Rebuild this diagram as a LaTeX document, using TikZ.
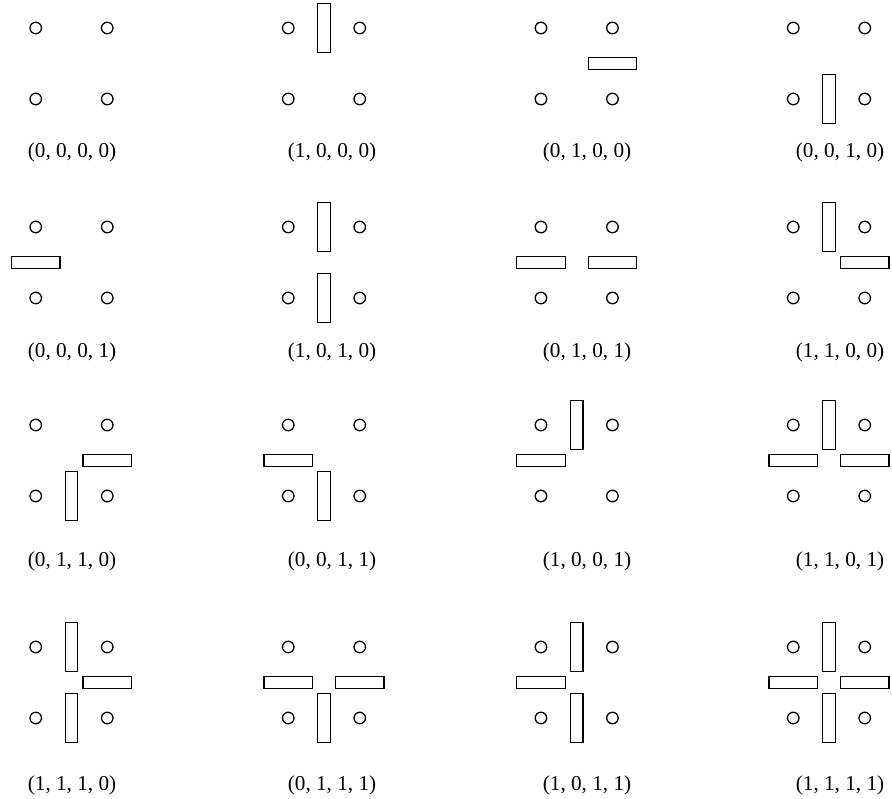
\documentclass[tikz,border=0pt]{standalone}
\usepackage{fontspec}
\setmainfont{Liberation Serif}
\begin{document}
\begin{tikzpicture}[x=1pt,y=-1pt]

% Styles
\tikzset{
  site/.style={
    circle,
    draw=black,
    line width=1.3pt,
    minimum size=11.5pt,
    inner sep=0pt
  },
  vwall/.style={
    rectangle,
    draw=black,
    line width=1.3pt,
    minimum width=12.5pt,
    minimum height=48.5pt,
    inner sep=0pt
  },
  hwall/.style={
    rectangle,
    draw=black,
    line width=1.3pt,
    minimum width=48.5pt,
    minimum height=12.5pt,
    inner sep=0pt
  },
  caption/.style={
    inner sep=0pt,
    font=\fontsize{21.2}{23}\selectfont
  }
}

% Page
\useasboundingbox (0,0) rectangle (892,799);

% Panels: number / column / row / top, right, bottom, left wall
\foreach \n/\c/\r/\bitA/\bitB/\bitC/\bitD in {
  1/1/1/0/0/0/0,  2/2/1/1/0/0/0,  3/3/1/0/1/0/0,  4/4/1/0/0/1/0,
  5/1/2/0/0/0/1,  6/2/2/1/0/1/0,  7/3/2/0/1/0/1,  8/4/2/1/1/0/0,
  9/1/3/0/1/1/0, 10/2/3/0/0/1/1, 11/3/3/1/0/0/1, 12/4/3/1/1/0/1,
 13/1/4/1/1/1/0, 14/2/4/0/1/1/1, 15/3/4/1/0/1/1, 16/4/4/1/1/1/1}
{
  % panel centre column, top row of sites, caption place
  \pgfmathsetmacro\px{{71.5,324,576.7,829}[\c-1]}
  \pgfmathsetmacro\py{{28,227,425,647}[\r-1]}
  \pgfmathsetmacro\lx{{72,332,587,840}[\c-1]}
  \pgfmathsetmacro\ly{{152,352,561,785}[\r-1]}

  % sites
  \node[site] (s\n-tl) at (\px-35.75,\py) {};
  \node[site] (s\n-tr) at (\px+35.75,\py) {};
  \node[site] (s\n-bl) at (\px-35.75,\py+71) {};
  \node[site] (s\n-br) at (\px+35.75,\py+71) {};

  % walls
  \ifnum\bitA=1 \node[vwall] (w\n-t) at (\px,\py) {}; \fi
  \ifnum\bitB=1 \node[hwall] (w\n-r) at (\px+35.75,\py+35.5) {}; \fi
  \ifnum\bitC=1 \node[vwall] (w\n-b) at (\px,\py+71) {}; \fi
  \ifnum\bitD=1 \node[hwall] (w\n-l) at (\px-35.75,\py+35.5) {}; \fi

  % caption
  \node[caption] (lab\n) at (\lx,\ly) {(\bitA, \bitB, \bitC, \bitD)};
}

\end{tikzpicture}
\end{document}
